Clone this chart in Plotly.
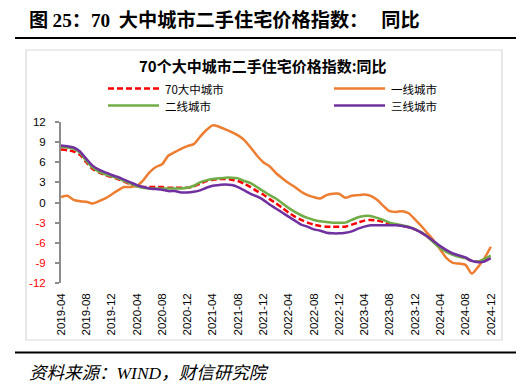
import pandas as pd
import plotly.graph_objects as go

# ---------------- data ----------------
months = [d.strftime("%Y-%m") for d in pd.date_range("2019-04-01", "2024-12-01", freq="MS")]

city70 = [7.9, 7.8, 7.6, 7.1, 6.0, 5.0, 4.5, 4.1, 3.8, 3.5, 3.1, 2.7, 2.4, 2.3, 2.3, 2.3,
          2.3, 2.2, 2.2, 2.2, 2.2, 2.4, 2.8, 3.2, 3.4, 3.5, 3.5, 3.4, 3.2, 2.8, 2.3, 1.7,
          1.2, 0.5, -0.1, -0.8, -1.5, -2.1, -2.6, -3.0, -3.3, -3.5, -3.6, -3.6, -3.6, -3.6,
          -3.3, -3.0, -2.7, -2.6, -2.7, -2.9, -3.2, -3.3, -3.5, -3.7, -4.0, -4.5, -5.1, -5.9,
          -6.7, -7.3, -7.7, -8.0, -8.3, -8.7, -8.8, -8.6, -8.1]
tier1 = [0.8, 1.0, 0.4, 0.2, 0.1, -0.15, 0.2, 0.6, 1.2, 1.8, 2.3, 2.3, 2.5, 3.3, 4.5, 5.3,
         5.7, 7.0, 7.5, 8.0, 8.4, 8.7, 9.8, 10.8, 11.5, 11.3, 10.9, 10.5, 10.0, 9.3, 8.2, 7.0,
         6.0, 5.4, 4.4, 3.6, 2.9, 2.3, 1.6, 1.1, 0.8, 0.6, 1.1, 1.3, 1.3, 0.7, 1.0, 1.1,
         1.2, 1.0, 0.4, -0.5, -1.3, -1.4, -1.3, -1.6, -2.5, -3.5, -4.6, -5.7, -7.0, -8.3,
         -9.0, -9.1, -9.3, -10.6, -9.6, -8.3, -6.6]
tier2 = [8.3, 8.2, 8.0, 7.4, 6.2, 5.2, 4.6, 4.2, 3.9, 3.6, 3.2, 2.8, 2.4, 2.2, 2.1, 2.1,
         2.1, 2.1, 2.1, 2.1, 2.2, 2.5, 3.0, 3.3, 3.5, 3.6, 3.7, 3.7, 3.6, 3.2, 2.9, 2.3,
         1.7, 1.1, 0.6, -0.1, -0.8, -1.4, -1.9, -2.3, -2.6, -2.8, -2.9, -3.0, -3.0, -3.0,
         -2.6, -2.2, -2.0, -2.0, -2.3, -2.6, -3.0, -3.2, -3.4, -3.6, -4.0, -4.4, -5.1, -6.0,
         -6.8, -7.4, -7.8, -8.1, -8.3, -8.7, -8.8, -8.4, -7.9]
tier3 = [8.5, 8.4, 8.2, 7.6, 6.5, 5.5, 4.9, 4.5, 4.1, 3.8, 3.4, 3.0, 2.6, 2.3, 2.1, 2.0,
         1.9, 1.7, 1.7, 1.5, 1.5, 1.6, 1.8, 2.2, 2.5, 2.6, 2.7, 2.6, 2.3, 1.8, 1.3, 0.9,
         0.4, -0.3, -0.9, -1.5, -2.1, -2.7, -3.3, -3.6, -4.0, -4.2, -4.5, -4.6, -4.6, -4.5,
         -4.3, -3.9, -3.6, -3.4, -3.4, -3.4, -3.4, -3.4, -3.5, -3.7, -4.0, -4.5, -5.1, -5.8,
         -6.5, -7.1, -7.6, -7.9, -8.2, -8.7, -8.9, -8.8, -8.3]

series_names = ["70大中城市", "一线城市", "二线城市", "三线城市"]
series_values = [city70, tier1, tier2, tier3]
y_ticks = [12, 9, 6, 3, 0, -3, -6, -9, -12]

heading_parts = ["图", "25", "：", "70", "大中城市二手住宅价格指数", "：", "同比"]
chart_title = "70个大中城市二手住宅价格指数:同比"
source_parts = ["资料来源：", "WIND", "，财信研究院"]

# ---------------- styles ----------------
colors = ["#ff0000", "#ed7d31", "#70ad47", "#7030a0"]
dashes = ["6px,3px", "solid", "solid", "solid"]
W, H = 531, 391
L, R, T, B = 61, 493, 122, 283
CJK = "Noto Sans CJK SC"
SERIF = "Liberation Serif"
NB = "\u00a0"


def fx(px):
    return (px - L) / (R - L)


def fy(py):
    return (B - py) / (B - T)


idx = list(range(len(months)))
fig = go.Figure()
for name, vals, c, d in zip(series_names, series_values, colors, dashes):
    fig.add_trace(go.Scatter(
        x=idx, y=vals, name=name, mode="lines", showlegend=False,
        line=dict(color=c, width=2.5, dash=d, shape="spline", smoothing=0.7),
        xaxis="x", yaxis="y"))

tickvals_x = idx[::4]
ticktext_x = months[::4]
xr = [0, 68.35]
axis_gray = "#8c8c8c"

ytext = [(f"<span style='color:#ff0000'>{v}</span>" if v < 0 else str(v)) for v in y_ticks]

fig.update_layout(
    width=W, height=H,
    margin=dict(l=L, r=W - R, t=T, b=H - B, pad=0),
    paper_bgcolor="white", plot_bgcolor="white",
    showlegend=False,
    font=dict(family="Liberation Sans, " + CJK, color="#000000", size=11),
    xaxis=dict(range=xr, tickvals=tickvals_x, ticktext=ticktext_x, tickangle=-90,
               showline=False, ticks="", showgrid=False, zeroline=False,
               tickfont=dict(size=11.5, family="Liberation Sans"), domain=[0, 1],
               ticklabelstandoff=7),
    xaxis2=dict(range=xr, overlaying="x", anchor="free", position=0.5, side="bottom",
                tickvals=tickvals_x, showticklabels=False, showline=True,
                linecolor=axis_gray, linewidth=2, ticks="outside", ticklen=5,
                tickwidth=1.5, tickcolor=axis_gray, showgrid=False, zeroline=False),
    yaxis=dict(range=[-12, 12], tickvals=y_ticks, ticktext=ytext, showline=True,
               linecolor=axis_gray, linewidth=2, ticks="outside", ticklen=4,
               tickwidth=1.5, tickcolor=axis_gray, showgrid=False, zeroline=False,
               tickfont=dict(size=11.5, family="Liberation Sans"), ticklabelstandoff=7),
)

shapes = []
annos = []
# outer chart box
shapes.append(dict(type="rect", xref="paper", yref="paper", x0=fx(26), x1=fx(502),
                   y0=fy(50), y1=fy(340), line=dict(color="#d9d9d9", width=1.2), layer="below"))
# horizontal rules
for py in (38, 352.5):
    shapes.append(dict(type="line", xref="paper", yref="paper", x0=fx(15), x1=fx(516),
                       y0=fy(py), y1=fy(py), line=dict(color="#000000", width=2.2)))

# manual legend (2 x 2)
leg_pos = [(108, 88.5), (334, 88.5), (108, 105.5), (334, 105.5)]
for (lx, ly), name, c, d in zip(leg_pos, series_names, colors, dashes):
    shapes.append(dict(type="line", xref="paper", yref="paper", x0=fx(lx), x1=fx(lx + 51),
                       y0=fy(ly), y1=fy(ly), line=dict(color=c, width=2.5, dash=d)))
    annos.append(dict(text=name, xref="paper", yref="paper", x=fx(lx + 56), y=fy(ly),
                      xanchor="left", yanchor="middle", showarrow=False, borderpad=0,
                      font=dict(size=11.5, family=CJK, color="#000000")))

# chart title
annos.append(dict(text=f"<b>{chart_title}</b>", xref="paper", yref="paper", x=fx(263), y=fy(65),
                  xanchor="center", yanchor="middle", showarrow=False,
                  font=dict(size=15, family=CJK, color="#000000")))


def serif(s):
    return f"<span style='font-family:{SERIF}'>{s}</span>"


# heading
hp = heading_parts
head_html = (hp[0] + NB + serif(hp[1]) + hp[2] + serif(hp[3]) + NB * 2 + hp[4] + hp[5]
             + NB * 3 + hp[6])
annos.append(dict(text=f"<b>{head_html}</b>", xref="paper", yref="paper", x=fx(27), y=fy(19),
                  xanchor="left", yanchor="middle", showarrow=False,
                  font=dict(size=19.2, family=CJK, color="#000000")))
# source
sp = source_parts
src_html = sp[0] + serif(sp[1]) + sp[2]
annos.append(dict(text=f"<i>{src_html}</i>", xref="paper", yref="paper", x=fx(27), y=fy(371),
                  xanchor="left", yanchor="middle", showarrow=False,
                  font=dict(size=17.5, family=CJK, color="#000000")))

fig.update_layout(shapes=shapes, annotations=annos)
fig.write_html("out.html", config={"displayModeBar": False},
               post_script="document.body.style.margin='0';")
